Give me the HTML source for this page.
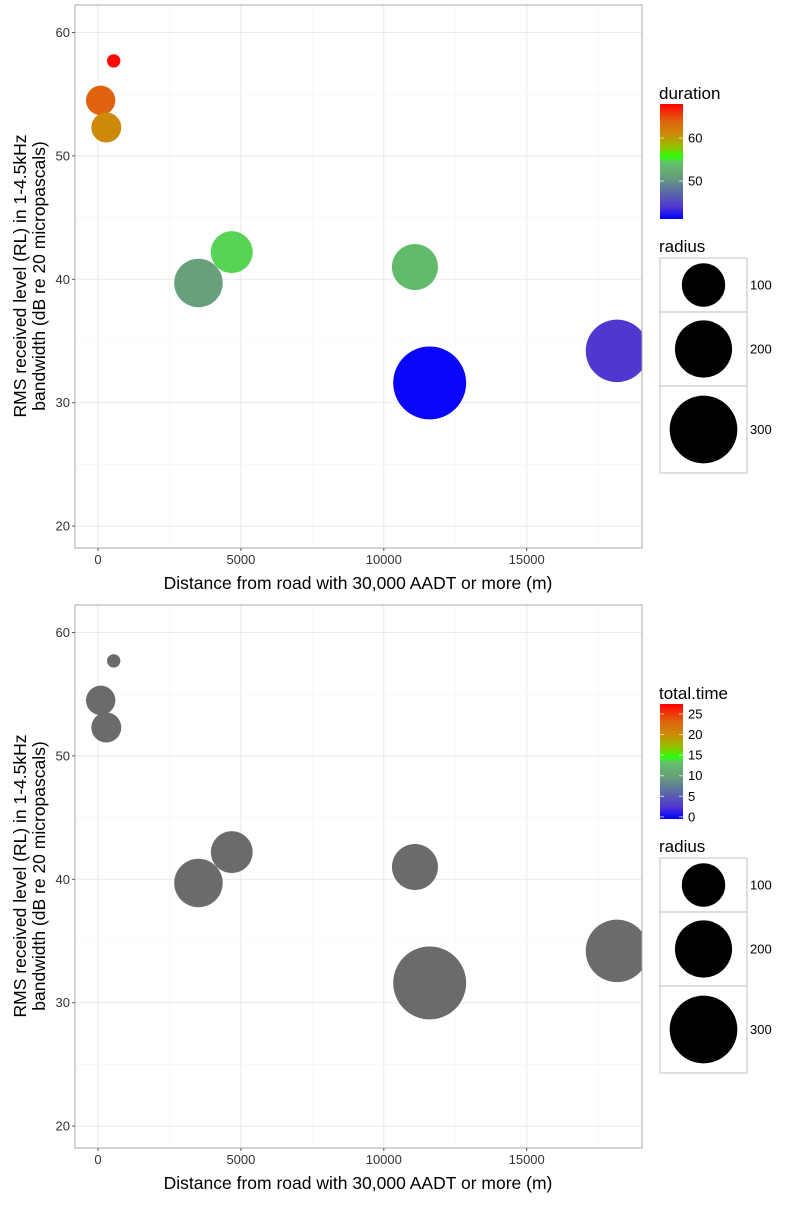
<!DOCTYPE html>
<html><head><meta charset="utf-8"><style>
body{margin:0;background:#fff;font-family:"Liberation Sans",Arial,sans-serif}
svg text{font-family:"Liberation Sans",Arial,sans-serif}
</style></head><body>
<svg id="chart" width="800" height="1200" xmlns="http://www.w3.org/2000/svg"></svg>
<script>
const distance=[549,94,290,3515,4680,11090,11605,18160];
const rms=[57.7,54.5,52.3,39.7,42.2,41.0,31.6,34.2];
const radius=[0.8,33,35,133,91,116,358,249];
const duration=[67.5,64,61,51,54.8,54,41.5,44];
const xTicks=[0,5000,10000,15000];
const yTicks=[20,30,40,50,60];
const durTicks=[50,60];
const ttTicks=[0,5,10,15,20,25];
const radTicks=[100,200,300];

const NS="http://www.w3.org/2000/svg";
const svg=document.getElementById('chart');
function mk(t,a,p){const e=document.createElementNS(NS,t);for(const k in a)e.setAttribute(k,a[k]);(p||svg).appendChild(e);return e;}
const PL=75,PR=642;
const xS=v=>98+v*142.9/5000;
const rS=v=>1.653*Math.sqrt(v)+5.2;
const stops=[[41.2,[0,0,255]],[44,[80,55,208]],[51,[103,160,123]],[54,[98,187,106]],[54.8,[87,211,85]],[55.5,[40,255,10]],[58,[150,190,0]],[61,[204,138,8]],[64,[224,98,14]],[67.9,[255,0,0]]];
function cS(v){for(let i=1;i<stops.length;i++){if(v<=stops[i][0]){const a=stops[i-1],b=stops[i];const t=Math.max(0,(v-a[0])/(b[0]-a[0]));return 'rgb('+a[1].map((c,j)=>Math.round(c+(b[1][j]-c)*t)).join(',')+')';}}return 'rgb(255,0,0)';}

function panel(off,colored,legTitle){
  const top=5+off,bot=548+off;
  const yS=v=>off+279.3-(v-40)*12.34;
  const g=mk('g',{});
  
  
  const cp='clip'+off;
  const cl=mk('clipPath',{id:cp},g);mk('rect',{x:PL,y:top,width:PR-PL,height:bot-top},cl);
  for(let v=-2500;v<=20000;v+=2500){const x=xS(v);if(x<PL||x>PR)continue;const l=mk('line',{x1:x,x2:x,y1:top,y2:bot,stroke:v%5000===0?'#ebebeb':'#f5f5f5','stroke-width':v%5000===0?1.1:0.6},g);}
  for(let v=15;v<=65;v+=5){const y=yS(v);if(y<top||y>bot)continue;const l=mk('line',{x1:PL,x2:PR,y1:y,y2:y,stroke:v%10===0?'#ebebeb':'#f5f5f5','stroke-width':v%10===0?1.1:0.6},g);}
  const pts=mk('g',{'clip-path':'url(#'+cp+')'},g);
  distance.forEach((d,i)=>{const c=mk('circle',{cx:xS(d),cy:yS(rms[i]),r:rS(radius[i]),fill:colored?cS(duration[i]):'#6b6b6b'},pts);
    
    });
  const b=mk('rect',{x:PL,y:top,width:PR-PL,height:bot-top,fill:'none',stroke:'#a8a8a8','stroke-width':1},g);
  
  xTicks.forEach(v=>{const x=xS(v);mk('line',{x1:x,x2:x,y1:bot,y2:bot+3,stroke:'#555'},g);
    const t=mk('text',{x:x,y:bot+16,'text-anchor':'middle','font-size':13,fill:'#333'},g);t.textContent=v;
    });
  yTicks.forEach(v=>{const y=yS(v);mk('line',{x1:PL-3,x2:PL,y1:y,y2:y,stroke:'#555'},g);
    const t=mk('text',{x:PL-5,y:y+4.5,'text-anchor':'end','font-size':13,fill:'#333'},g);t.textContent=v;
    });
  const xt=mk('text',{x:358,y:bot+41,'text-anchor':'middle','font-size':17.5,fill:'#000'},g);xt.textContent='Distance from road with 30,000 AADT or more (m)';
  
  const yt=mk('text',{transform:'translate(26,'+(276+off)+') rotate(-90)','text-anchor':'middle','font-size':17.5,fill:'#000'},g);
  
  const s1=mk('tspan',{x:0,y:0},yt);s1.textContent='RMS received level (RL) in 1-4.5kHz';
  const s2=mk('tspan',{x:0,y:19},yt);s2.textContent='bandwidth (dB re 20 micropascals)';
  const lg=mk('g',{},g);
  const tt=mk('text',{x:659,y:off+99,'font-size':17},lg);tt.textContent=legTitle;
  const gid='grad'+off;const gr=mk('linearGradient',{id:gid,x1:0,y1:1,x2:0,y2:0},lg);
  let ticks,ty;
  if(colored){ticks=durTicks;ty=v=>off+219-(v-41.2)*(115/26.7);}
  else{ticks=ttTicks;ty=v=>off+219-(v+0.5)*4.12;}
  stops.forEach(s=>mk('stop',{offset:(s[0]-41.2)/26.7,'stop-color':'rgb('+s[1].join(',')+')'},gr));
  mk('rect',{x:660,y:off+104,width:23,height:115,fill:'url(#'+gid+')'},lg);
  ticks.forEach(v=>{const y=ty(v);mk('line',{x1:660,x2:664,y1:y,y2:y,stroke:'#fff','stroke-opacity':.7},lg);mk('line',{x1:679,x2:683,y1:y,y2:y,stroke:'#fff','stroke-opacity':.7},lg);
    const t=mk('text',{x:688,y:y+4.5,'font-size':13},lg);t.textContent=v;});
  const rg=mk('g',{},g);
  const rt=mk('text',{x:659,y:off+252,'font-size':17},rg);rt.textContent='radius';
  const boxes=[[258,312],[312,386],[386,473]];
  radTicks.forEach((v,i)=>{const y0=off+boxes[i][0],y1=off+boxes[i][1];
    mk('rect',{x:660,y:y0,width:87,height:y1-y0,fill:'#fff',stroke:'#ccc','stroke-width':1.2},rg);
    mk('circle',{cx:703.5,cy:(y0+y1)/2,r:rS(v),fill:'#000'},rg);
    const t=mk('text',{x:750,y:(y0+y1)/2+4.5,'font-size':13},rg);t.textContent=v;});
}
panel(0,true,'duration');
panel(600,false,'total.time');
</script>
</body></html>
